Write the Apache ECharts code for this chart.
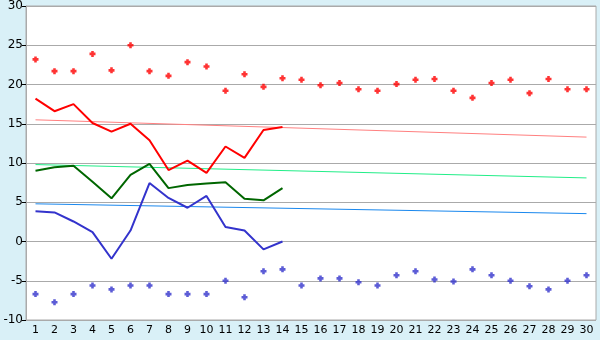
<!DOCTYPE html>
<html>
<head>
<meta charset="utf-8">
<script src="https://cdn.jsdelivr.net/npm/echarts@6/dist/echarts.min.js"></script>
<style>
html,body{margin:0;padding:0;background:#d9f0f7;}
#c{width:600px;height:340px;}
</style>
</head>
<body>
<div id="c"></div>
<script>
var days = [];
for (var i = 1; i <= 30; i++) days.push(String(i));

var maxLine = [18.2, 16.6, 17.5, 15.1, 14.0, 15.0, 12.9, 9.1, 10.3, 8.75, 12.1, 10.65, 14.2, 14.6];
var meanLine = [9.0, 9.45, 9.65, 7.6, 5.5, 8.5, 9.9, 6.8, 7.2, 7.4, 7.55, 5.45, 5.25, 6.8];
var minLine = [3.85, 3.7, 2.55, 1.2, -2.2, 1.4, 7.45, 5.55, 4.3, 5.8, 1.85, 1.4, -1.0, 0.0];

var maxPoints = [23.2, 21.7, 21.7, 23.9, 21.8, 25.0, 21.7, 21.1, 22.85, 22.3,
                 19.2, 21.3, 19.7, 20.8, 20.6, 19.9, 20.2, 19.4, 19.2, 20.05,
                 20.6, 20.7, 19.2, 18.3, 20.2, 20.6, 18.9, 20.7, 19.4, 19.4];
var minPoints = [-6.7, -7.75, -6.7, -5.6, -6.1, -5.6, -5.6, -6.7, -6.7, -6.7,
                 -5.0, -7.1, -3.8, -3.55, -5.6, -4.7, -4.7, -5.2, -5.6, -4.3,
                 -3.8, -4.85, -5.1, -3.55, -4.3, -5.0, -5.7, -6.1, -5.0, -4.3];

// trend lines: [value at day 1, value at day 30]
var maxTrend = [15.5, 13.3];
var meanTrend = [9.8, 8.1];
var minTrend = [4.8, 3.55];

var yTicks = [-10, -5, 0, 5, 10, 15, 20, 25, 30];

function trendData(t) {
  var d = [];
  for (var i = 0; i < days.length; i++) d.push(null);
  d[0] = t[0];
  d[days.length - 1] = t[1];
  return d;
}

var plus = 'path://M2,0H5V2H7V5H5V7H2V5H0V2H2Z';

var chart = echarts.init(document.getElementById('c'), null, {renderer: 'canvas'});
var font = 'DejaVu Sans';
chart.setOption({
  backgroundColor: '#d9f0f7',
  animation: false,
  grid: {left: 26, right: 4, top: 5, bottom: 20, show: true, backgroundColor: '#ffffff', borderColor: '#aaaaaa', borderWidth: 1},
  xAxis: {
    type: 'category',
    data: days,
    boundaryGap: true,
    axisLine: {lineStyle: {color: '#aaaaaa', width: 1}},
    axisTick: {alignWithLabel: true, length: 5, lineStyle: {color: '#000'}},
    axisLabel: {color: '#000', fontFamily: font, fontSize: 11, margin: 5, interval: 0}
  },
  yAxis: {
    type: 'value',
    min: yTicks[0],
    max: yTicks[yTicks.length - 1],
    interval: 5,
    axisLine: {show: true, lineStyle: {color: '#aaaaaa'}},
    axisTick: {show: true, length: 4, lineStyle: {color: '#000'}},
    axisLabel: {color: '#000', fontFamily: font, fontSize: 12, margin: 3},
    splitLine: {lineStyle: {color: '#aaaaaa', width: 1}}
  },
  series: [
    {type: 'line', data: trendData(maxTrend), connectNulls: true, symbol: 'none', lineStyle: {color: '#ff8080', width: 1}, z: 1},
    {type: 'line', data: trendData(meanTrend), connectNulls: true, symbol: 'none', lineStyle: {color: '#22ee88', width: 1}, z: 1},
    {type: 'line', data: trendData(minTrend), connectNulls: true, symbol: 'none', lineStyle: {color: '#1a88ee', width: 1}, z: 1},
    {type: 'line', data: maxLine, symbol: 'none', lineStyle: {color: '#ff0000', width: 2}, z: 3},
    {type: 'line', data: meanLine, symbol: 'none', lineStyle: {color: '#006600', width: 2}, z: 3},
    {type: 'line', data: minLine, symbol: 'none', lineStyle: {color: '#3333cc', width: 2}, z: 3},
    {type: 'scatter', data: maxPoints, symbol: plus, symbolSize: 6, itemStyle: {color: '#ff0000'}, z: 4},
    {type: 'scatter', data: minPoints, symbol: plus, symbolSize: 6, itemStyle: {color: '#3333cc'}, z: 4}
  ]
});
</script>
</body>
</html>
